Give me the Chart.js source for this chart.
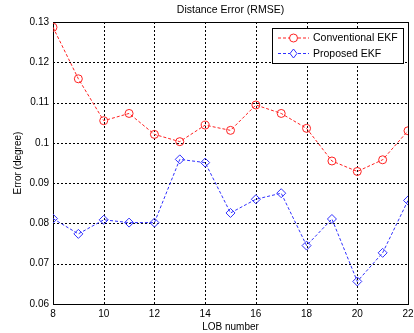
<!DOCTYPE html>
<html>
<head>
<meta charset="utf-8">
<script src="https://cdn.jsdelivr.net/npm/chart.js@4.4.0/dist/chart.umd.min.js"></script>
<style>
  html, body { margin: 0; padding: 0; background: #fff; }
  #wrap { width: 414px; height: 333px; }
</style>
</head>
<body>
<div id="wrap"><canvas id="chart" width="414" height="333"></canvas></div>
<script>
// LOB numbers and RMSE values
const lobNumbers = [8, 9, 10, 11, 12, 13, 14, 15, 16, 17, 18, 19, 20, 21, 22];
const conventionalEkf = [0.1287, 0.1159, 0.1055, 0.1073, 0.1021, 0.1003, 0.1044, 0.1031, 0.1094, 0.1073, 0.1036, 0.0955, 0.0929, 0.0958, 0.1030];
const proposedEkf = [0.0812, 0.0774, 0.0809, 0.0802, 0.0802, 0.0959, 0.0951, 0.0826, 0.0860, 0.0875, 0.0745, 0.0811, 0.0656, 0.0727, 0.0857];
const seriesNames = ["Conventional EKF", "Proposed EKF"];
const xTicks = [8, 10, 12, 14, 16, 18, 20, 22];
const yTicks = [0.06, 0.07, 0.08, 0.09, 0.1, 0.11, 0.12, 0.13];
const chartTitle = "Distance Error (RMSE)";

const FONT = "'Liberation Sans', Arial, sans-serif";
const RED = "#ff2020";
const BLUE = "#3030ff";

function toPoints(values) {
  return lobNumbers.map((x, i) => ({ x: x, y: values[i] }));
}

// dotted grid, frame and title (matlab style axes)
const axesPlugin = {
  id: "axesBox",
  beforeDatasetsDraw(chart) {
    const a = chart.chartArea;
    const ctx = chart.ctx;
    const xs = chart.scales.x, ys = chart.scales.y;
    ctx.save();
    ctx.strokeStyle = "#000";
    ctx.lineWidth = 1;
    ctx.setLineDash([2, 2]);
    xTicks.slice(1, -1).forEach(v => {
      const px = Math.round(xs.getPixelForValue(v)) + 0.5;
      ctx.beginPath();
      ctx.moveTo(px, a.top);
      ctx.lineTo(px, a.bottom);
      ctx.stroke();
    });
    yTicks.slice(1, -1).forEach(v => {
      const py = Math.round(ys.getPixelForValue(v)) + 0.5;
      ctx.beginPath();
      ctx.moveTo(a.left, py);
      ctx.lineTo(a.right, py);
      ctx.stroke();
    });
    ctx.setLineDash([]);
    ctx.strokeRect(Math.round(a.left) + 0.5, Math.round(a.top) + 0.5,
      Math.round(a.right - a.left), Math.round(a.bottom - a.top));
    ctx.fillStyle = "#000";
    ctx.font = "10.5px " + FONT;
    ctx.textAlign = "center";
    ctx.textBaseline = "middle";
    ctx.fillText(chartTitle, (a.left + a.right) / 2, 10);
    ctx.restore();
  }
};

// legend box drawn inside the axes, top right
const legendPlugin = {
  id: "insideLegend",
  afterDraw(chart) {
    const ctx = chart.ctx;
    const x0 = 272, y0 = 28, w = 131, h = 35;
    ctx.save();
    ctx.fillStyle = "#fff";
    ctx.fillRect(x0, y0, w, h);
    ctx.strokeStyle = "#000";
    ctx.lineWidth = 1;
    ctx.strokeRect(x0 + 0.5, y0 + 0.5, w, h);
    const rows = [
      { name: seriesNames[0], color: RED, style: "circle", y: 38 },
      { name: seriesNames[1], color: BLUE, style: "diamond", y: 53.5 }
    ];
    rows.forEach(r => {
      ctx.strokeStyle = r.color;
      ctx.setLineDash([3, 2]);
      ctx.beginPath();
      ctx.moveTo(278, r.y);
      ctx.lineTo(309, r.y);
      ctx.stroke();
      ctx.setLineDash([]);
      ctx.fillStyle = "#fff";
      ctx.beginPath();
      if (r.style === "circle") {
        ctx.arc(293.5, r.y, 4, 0, Math.PI * 2);
      } else {
        ctx.moveTo(293.5, r.y - 4.5);
        ctx.lineTo(297, r.y);
        ctx.lineTo(293.5, r.y + 4.5);
        ctx.lineTo(290, r.y);
        ctx.closePath();
      }
      ctx.fill();
      ctx.stroke();
      ctx.fillStyle = "#000";
      ctx.font = "10.5px " + FONT;
      ctx.textBaseline = "middle";
      ctx.textAlign = "left";
      ctx.fillText(r.name, 313, r.y + 0.5);
    });
    ctx.restore();
  }
};

new Chart(document.getElementById("chart"), {
  type: "line",
  data: {
    datasets: [
      {
        label: seriesNames[0],
        data: toPoints(conventionalEkf),
        borderColor: RED,
        backgroundColor: "rgba(0,0,0,0)",
        borderWidth: 1,
        borderDash: [3, 2],
        pointStyle: "circle",
        pointRadius: 4,
        pointBorderWidth: 1,
        pointBorderColor: RED,
        pointBackgroundColor: "rgba(0,0,0,0)",
        tension: 0
      },
      {
        label: seriesNames[1],
        data: toPoints(proposedEkf),
        borderColor: BLUE,
        backgroundColor: "rgba(0,0,0,0)",
        borderWidth: 1,
        borderDash: [3, 2],
        pointStyle: "rectRot",
        pointRadius: 4.5,
        pointBorderWidth: 1,
        pointBorderColor: BLUE,
        pointBackgroundColor: "rgba(0,0,0,0)",
        tension: 0
      }
    ]
  },
  options: {
    responsive: false,
    animation: false,
    devicePixelRatio: 1,
    layout: { padding: { left: 12, right: 6, top: 22, bottom: 0 } },
    plugins: {
      legend: { display: false },
      tooltip: { enabled: false },
      title: { display: false }
    },
    scales: {
      x: {
        type: "linear",
        min: 8,
        max: 22,
        afterBuildTicks(scale) {
          scale.ticks = xTicks.map(v => ({ value: v }));
        },
        afterFit(scale) {
          scale.height = 29;
          scale.paddingRight = 0;
          scale.paddingLeft = 0;
        },
        grid: { display: false, drawTicks: false },
        border: { display: false },
        ticks: {
          color: "#000",
          font: { family: FONT, size: 10 },
          padding: 4,
          maxRotation: 0
        },
        title: {
          display: true,
          text: "LOB number",
          color: "#000",
          font: { family: FONT, size: 10 },
          padding: { top: 0, bottom: 0 }
        }
      },
      y: {
        type: "linear",
        min: 0.06,
        max: 0.13,
        afterBuildTicks(scale) {
          scale.ticks = yTicks.map(v => ({ value: v }));
        },
        afterFit(scale) {
          scale.width = 41;
          scale.paddingTop = 0;
          scale.paddingBottom = 0;
        },
        grid: { display: false, drawTicks: false },
        border: { display: false },
        ticks: {
          color: "#000",
          font: { family: FONT, size: 10 },
          padding: 4,
          callback: v => String(parseFloat(v.toFixed(2)))
        },
        title: {
          display: true,
          text: "Error (degree)",
          color: "#000",
          font: { family: FONT, size: 10 },
          padding: { top: 0, bottom: 2 }
        }
      }
    }
  },
  plugins: [axesPlugin, legendPlugin]
});
</script>
</body>
</html>
